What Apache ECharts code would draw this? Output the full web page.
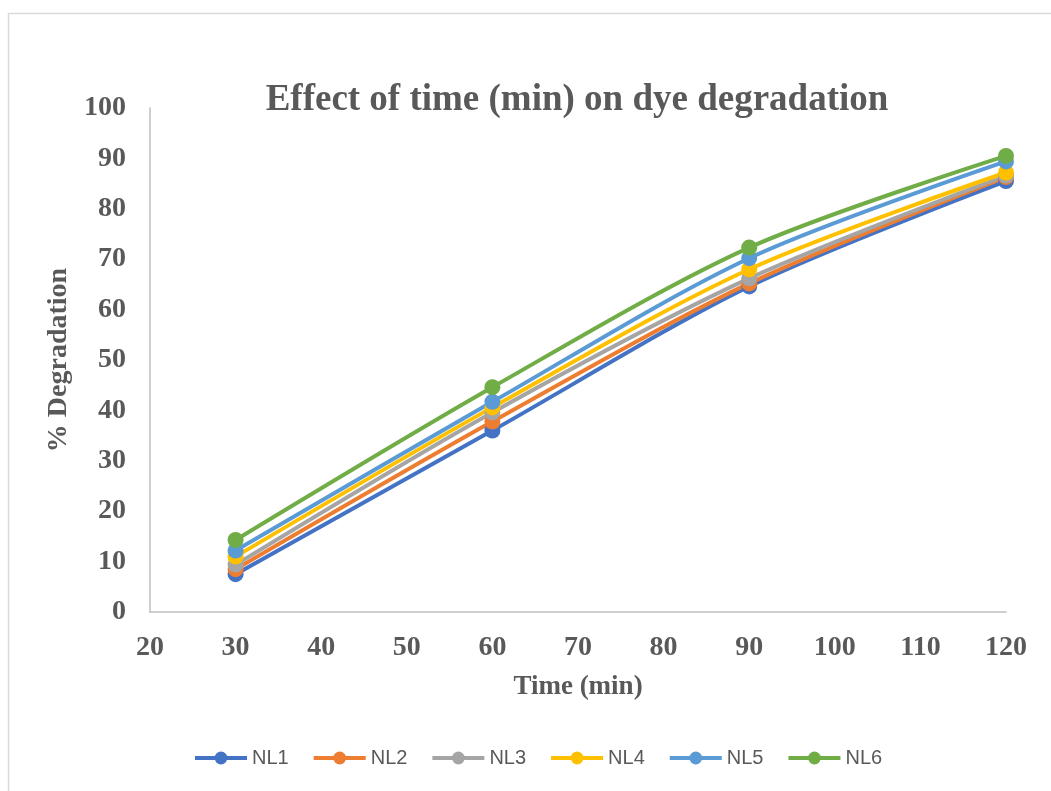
<!DOCTYPE html>
<html>
<head>
<meta charset="utf-8">
<script src="https://cdn.jsdelivr.net/npm/echarts@6/dist/echarts.min.js"></script>
<style>
  html, body { margin: 0; padding: 0; background: #fff; }
  #chart { width: 1051px; height: 791px; }
</style>
</head>
<body>
<div id="chart"></div>
<script>
// data
const times = [30, 60, 90, 120]
const seriesNames = ['NL1', 'NL2', 'NL3', 'NL4', 'NL5', 'NL6']
const nl1 = [7.5, 36.0, 64.6, 85.5]
const nl2 = [8.5, 37.8, 65.2, 86.3]
const nl3 = [9.4, 39.6, 66.2, 86.6]
const nl4 = [11.0, 40.6, 68.0, 87.2]
const nl5 = [12.2, 41.7, 70.2, 89.4]
const nl6 = [14.3, 44.6, 72.3, 90.5]
const colors = ['#4472C4', '#ED7D31', '#A5A5A5', '#FFC000', '#5B9BD5', '#70AD47']

const allValues = [nl1, nl2, nl3, nl4, nl5, nl6]
const serif = 'Liberation Serif'
const textColor = '#595959'

const chart = echarts.init(document.getElementById('chart'))

chart.setOption({
  animation: false,
  color: colors,
  graphic: [{
    type: 'rect',
    shape: { x: 8.5, y: 13.5, width: 1100, height: 900 },
    style: { fill: 'none', stroke: '#D9D9D9', lineWidth: 1.5 },
    silent: true
  }],
  title: {
    text: 'Effect of time (min) on dye degradation',
    left: 572,
    textAlign: 'center',
    top: 77,
    textStyle: { fontFamily: serif, fontWeight: 'bold', fontSize: 37, color: textColor }
  },
  legend: {
    data: seriesNames,
    top: 743,
    left: 188,
    itemWidth: 52,
    itemHeight: 16,
    itemGap: 23,
    lineStyle: { width: 4 },
    textStyle: { fontFamily: 'Liberation Sans', fontSize: 20, color: textColor }
  },
  grid: { left: 150, right: 45, top: 108, bottom: 179 },
  xAxis: {
    type: 'value',
    min: 20,
    max: 120,
    interval: 10,
    name: 'Time (min)',
    nameLocation: 'middle',
    nameGap: 62,
    nameTextStyle: { fontFamily: serif, fontWeight: 'bold', fontSize: 27, color: textColor },
    axisLine: { show: true, lineStyle: { color: '#BFBFBF', width: 1.5 } },
    axisTick: { show: false },
    splitLine: { show: false },
    axisLabel: { margin: 22, fontFamily: serif, fontWeight: 'bold', fontSize: 28, color: textColor }
  },
  yAxis: {
    type: 'value',
    min: 0,
    max: 100,
    interval: 10,
    name: '% Degradation',
    nameLocation: 'middle',
    nameGap: 74,
    nameTextStyle: { fontFamily: serif, fontWeight: 'bold', fontSize: 28, color: textColor },
    axisLine: { show: true, lineStyle: { color: '#BFBFBF', width: 1.5 } },
    axisTick: { show: false },
    splitLine: { show: false },
    axisLabel: { margin: 24, fontFamily: serif, fontWeight: 'bold', fontSize: 28, color: textColor }
  },
  series: seriesNames.map((name, i) => ({
    name,
    type: 'line',
    smooth: 0.3,
    symbol: 'circle',
    symbolSize: 16,
    lineStyle: { width: 4, color: colors[i] },
    itemStyle: { color: colors[i] },
    data: times.map((t, j) => [t, allValues[i][j]])
  }))
})
</script>
</body>
</html>
